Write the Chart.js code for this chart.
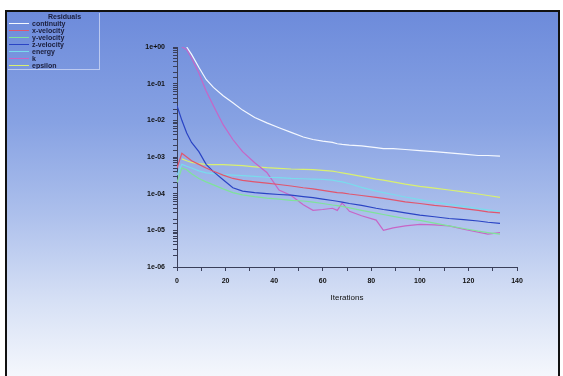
<!DOCTYPE html>
<html>
<head>
<meta charset="utf-8">
<script src="https://cdn.jsdelivr.net/npm/chart.js@4.4.1/dist/chart.umd.min.js"></script>
<style>
  body { margin: 0; width: 563px; height: 376px; background: #fff; overflow: hidden; font-family: "Liberation Sans", Arial, sans-serif; }
  #frame {
    position: absolute; left: 5px; top: 10px; width: 551px; height: 370px;
    border: 2px solid #111; border-bottom: none;
    background: linear-gradient(to bottom, #6d8bdb 0%, #87a2e3 30%, #adc0ec 55%, #d6e0f5 78%, #f7f9fd 100%);
  }
  #chart { position: absolute; left: 0; top: 0; }
  #legend {
    position: absolute; left: 1px; top: 1px; width: 91px; height: 56px;
    border: 1px solid rgba(205, 215, 245, 0.8); border-top: none; border-left: none;
    overflow: hidden; font-size: 7px; line-height: 7px; color: #1a1d3a; font-weight: bold;
  }
  #legend .hdr { padding-left: 40px; height: 7px; }
  #legend .row { height: 7px; position: relative; padding-left: 24px; white-space: nowrap; }
  #legend .row span { position: absolute; left: 1px; top: 3px; width: 20px; height: 1px; }
</style>
</head>
<body>
<div id="frame">
  <canvas id="chart" width="551" height="366"></canvas>
  <div id="legend"></div>
</div>
<script>
// iterations shared by every residual series
const iterations = [0, 2, 4, 6, 9, 12, 15, 19, 23, 27, 32, 37, 42, 47, 52, 56, 60, 64, 66, 68, 71, 76, 82, 85, 89, 94, 100, 106, 112, 118, 124, 128, 133];

const continuity = [null, null, 1.0, 0.63, 0.28, 0.13, 0.079, 0.047, 0.030, 0.019, 0.012, 0.0085, 0.0063, 0.0047, 0.0035, 0.0030, 0.0027, 0.0025, 0.0023, 0.0022, 0.0021, 0.0020, 0.0018, 0.0017, 0.0017, 0.0016, 0.0015, 0.0014, 0.0013, 0.0012, 0.0011, 0.0011, 0.00105];
const xVelocity = [5.0e-4, 1.26e-3, 1.0e-3, 7.9e-4, 6.3e-4, 5.0e-4, 4.1e-4, 3.2e-4, 2.6e-4, 2.3e-4, 2.1e-4, 1.95e-4, 1.78e-4, 1.62e-4, 1.45e-4, 1.35e-4, 1.23e-4, 1.12e-4, 1.07e-4, 1.05e-4, 9.8e-5, 8.9e-5, 7.9e-5, 7.4e-5, 6.8e-5, 6.0e-5, 5.4e-5, 4.8e-5, 4.4e-5, 3.9e-5, 3.5e-5, 3.2e-5, 3.0e-5];
const yVelocity = [2.0e-4, 5.0e-4, 4.5e-4, 3.5e-4, 2.6e-4, 2.1e-4, 1.74e-4, 1.35e-4, 1.07e-4, 9.3e-5, 8.3e-5, 7.6e-5, 7.1e-5, 6.6e-5, 6.3e-5, 5.9e-5, 5.4e-5, 4.9e-5, 4.7e-5, 4.5e-5, 4.1e-5, 3.5e-5, 2.95e-5, 2.7e-5, 2.4e-5, 2.1e-5, 1.86e-5, 1.58e-5, 1.32e-5, 1.12e-5, 9.5e-6, 8.7e-6, 7.9e-6];
const zVelocity = [0.025, 0.01, 0.0045, 0.0025, 0.0014, 6.3e-4, 4.0e-4, 2.4e-4, 1.45e-4, 1.17e-4, 1.07e-4, 1.0e-4, 9.5e-5, 9.1e-5, 8.3e-5, 7.8e-5, 7.1e-5, 6.5e-5, 6.2e-5, 5.9e-5, 5.4e-5, 4.8e-5, 4.0e-5, 3.7e-5, 3.4e-5, 3.0e-5, 2.6e-5, 2.35e-5, 2.1e-5, 1.95e-5, 1.8e-5, 1.66e-5, 1.55e-5];
const energy = [3.2e-4, 6.3e-4, 5.6e-4, 5.0e-4, 4.2e-4, 3.7e-4, 3.5e-4, 3.3e-4, 3.2e-4, 3.1e-4, 2.95e-4, 2.8e-4, 2.75e-4, 2.6e-4, 2.55e-4, 2.5e-4, 2.45e-4, 2.35e-4, 2.2e-4, 2.1e-4, 1.86e-4, 1.48e-4, 1.17e-4, 1.07e-4, 9.5e-5, 8.1e-5, 6.9e-5, 5.9e-5, 5.1e-5, 4.5e-5, 3.9e-5, 3.6e-5, 3.3e-5];
const kResid = [null, 1.0, 0.85, 0.5, 0.195, 0.063, 0.025, 0.0076, 0.0030, 0.0014, 7.0e-4, 3.8e-4, 1.26e-4, 8.9e-5, 5.0e-5, 3.5e-5, 3.7e-5, 4.0e-5, 3.5e-5, 5.6e-5, 3.3e-5, 2.5e-5, 1.9e-5, 1.0e-5, 1.17e-5, 1.32e-5, 1.45e-5, 1.41e-5, 1.32e-5, 1.07e-5, 8.9e-6, 7.9e-6, 8.7e-6];
const epsilon = [null, 8.9e-4, 7.9e-4, 7.1e-4, 6.6e-4, 6.3e-4, 6.2e-4, 6.2e-4, 6.0e-4, 5.8e-4, 5.4e-4, 5.1e-4, 4.9e-4, 4.7e-4, 4.6e-4, 4.5e-4, 4.3e-4, 4.1e-4, 3.9e-4, 3.7e-4, 3.4e-4, 2.95e-4, 2.5e-4, 2.35e-4, 2.1e-4, 1.82e-4, 1.58e-4, 1.41e-4, 1.26e-4, 1.12e-4, 9.8e-5, 8.9e-5, 7.9e-5];

const seriesNames = ['continuity', 'x-velocity', 'y-velocity', 'z-velocity', 'energy', 'k', 'epsilon'];
const seriesValues = [continuity, xVelocity, yVelocity, zVelocity, energy, kResid, epsilon];
const seriesColors = ['#f4f8ff', '#e0566e', '#7fe39a', '#2a44c4', '#79dcec', '#c765c6', '#d9f070'];

const xTicks = [0, 20, 40, 60, 80, 100, 120, 140];

const datasets = seriesNames.map((name, i) => ({
  label: name,
  data: iterations.map((it, j) => ({ x: it, y: seriesValues[i][j] })),
  borderColor: seriesColors[i],
  borderWidth: 1.2,
  pointRadius: 0,
  tension: 0,
  fill: false
}));

// legend box (top left, like the solver window)
const legendEl = document.getElementById('legend');
legendEl.innerHTML = '<div class="hdr">Residuals</div>' +
  seriesNames.map((n, i) => `<div class="row"><span style="background:${seriesColors[i]}"></span>${n}</div>`).join('');

const tickFont = { family: 'Liberation Sans', size: 7, weight: 'bold' };

new Chart(document.getElementById('chart'), {
  type: 'line',
  data: { datasets },
  options: {
    responsive: false,
    animation: false,
    devicePixelRatio: 1,
    layout: { padding: { left: 0, right: 41, top: 35, bottom: 66 } },
    plugins: { legend: { display: false }, tooltip: { enabled: false } },
    scales: {
      x: {
        type: 'linear',
        min: 0,
        max: 140,
        afterFit: (s) => { s.height = 45; },
        border: { display: true, color: '#3a3f5a', width: 1 },
        grid: { drawOnChartArea: false, drawTicks: true, tickLength: 4, color: '#3a3f5a' },
        ticks: {
          stepSize: 10,
          padding: 6,
          color: '#111',
          font: tickFont,
          autoSkip: false,
          maxRotation: 0,
          callback: (v) => xTicks.includes(v) ? String(v) : ''
        },
        title: { display: true, text: 'Iterations', color: '#111', font: { family: 'Liberation Sans', size: 8 }, padding: { top: 0, bottom: 9 } }
      },
      y: {
        type: 'logarithmic',
        min: 1e-6,
        max: 1,
        afterFit: (s) => { s.width = 170; },
        border: { display: true, color: '#3a3f5a', width: 1 },
        grid: { drawOnChartArea: false, drawTicks: true, tickLength: 4, color: '#3a3f5a' },
        ticks: {
          padding: 8,
          color: '#111',
          font: tickFont,
          autoSkip: false,
          callback: (v) => {
            const e = Math.log10(v);
            if (Math.abs(e - Math.round(e)) > 1e-9) return '';
            const n = Math.round(e);
            return '1e' + (n >= 0 ? '+' : '-') + String(Math.abs(n)).padStart(2, '0');
          }
        }
      }
    }
  }
});
</script>
</body>
</html>
